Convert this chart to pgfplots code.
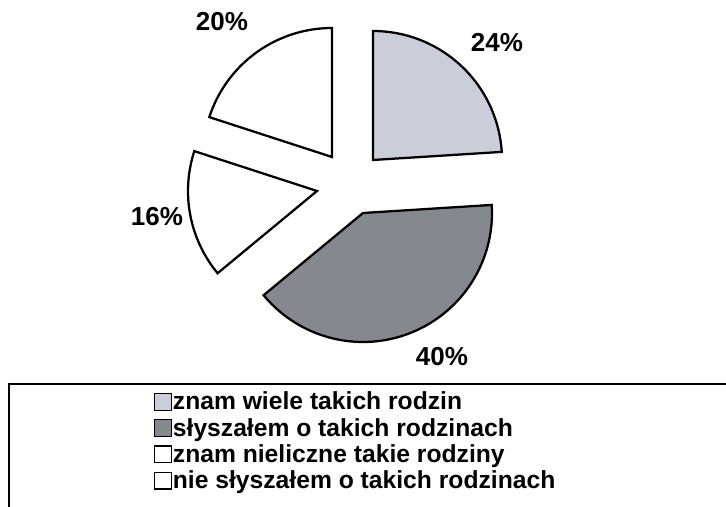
\documentclass[border=0pt]{standalone}
\usepackage{pgfplots}
\pgfplotsset{compat=1.18}
\usepackage{fontspec}
\setmainfont{Liberation Sans}
\definecolor{lightsl}{RGB}{203,206,216}
\definecolor{darksl}{RGB}{134,136,144}
\begin{document}
\begin{tikzpicture}
\begin{axis}[
  scale only axis, width=544.5pt, height=380.25pt,
  xmin=0, xmax=726, ymin=0, ymax=507,
  hide axis, clip=true,
  legend cell align=left,
  legend style={at={(150/726,119/507)}, anchor=north west, draw=none, fill=none,
    font=\bfseries\fontsize{18.5}{20}\selectfont, row sep=0.5pt,
    nodes={inner sep=0.6pt, text height=13.6pt, text depth=4.4pt}},
  legend image code/.code={\draw[#1, line width=0.9pt] (0pt,-4.8pt) rectangle (12.5pt,7.7pt);},
  every axis plot/.append style={draw=black, line width=1.7pt, samples=80, variable=\t},
]
% 24%: 3.6 -> 90 deg
\addplot[fill=lightsl, domain=3.6:90] ({373+129*cos(t)},{347+129*sin(t)}) -- (axis cs:373,347) -- cycle;
% 40%: -140.4 -> 3.6 deg
\addplot[fill=darksl, domain=-140.4:3.6] ({363+129*cos(t)},{294+129*sin(t)}) -- (axis cs:363,294) -- cycle;
% 16%: 162 -> 219.6 deg
\addplot[fill=white, domain=162:219.6] ({317+129*cos(t)},{316+129*sin(t)}) -- (axis cs:317,316) -- cycle;
% 20%: 90 -> 162 deg
\addplot[fill=white, domain=90:162] ({332+129*cos(t)},{350+129*sin(t)}) -- (axis cs:332,350) -- cycle;
\legend{znam wiele takich rodzin, słyszałem o takich rodzinach, znam nieliczne takie rodziny, nie słyszałem o takich rodzinach}
\node[font=\bfseries\fontsize{19.5}{22}\selectfont] at (axis cs:222,485) {20\%};
\node[font=\bfseries\fontsize{19.5}{22}\selectfont] at (axis cs:497,464) {24\%};
\node[font=\bfseries\fontsize{19.5}{22}\selectfont] at (axis cs:157,290) {16\%};
\node[font=\bfseries\fontsize{19.5}{22}\selectfont] at (axis cs:442,150) {40\%};
\draw[line width=1.6pt] (axis cs:9,0) -- (axis cs:9,123) -- (axis cs:726,123);
\end{axis}
\pgfresetboundingbox
\useasboundingbox (current axis.south west) rectangle (current axis.north east);
\end{tikzpicture}
\end{document}
